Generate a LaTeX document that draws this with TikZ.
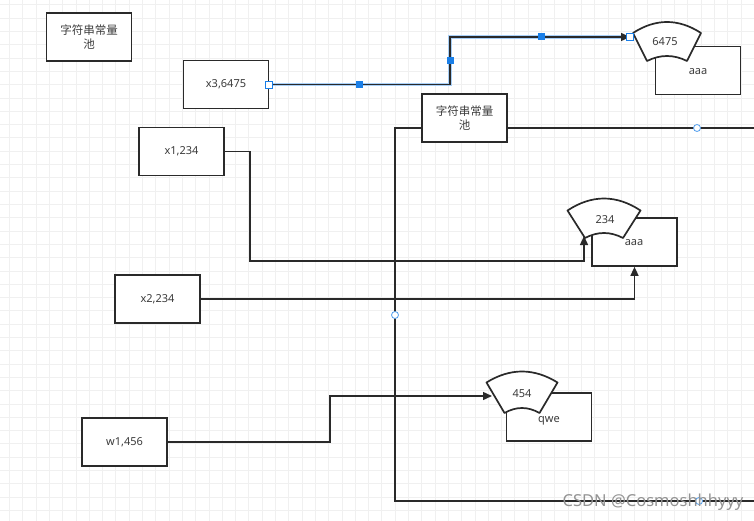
\documentclass[tikz,border=0pt]{standalone}
\usepackage{fontspec}
\setmainfont{Noto Sans}
\newfontfamily\cjk{Noto Sans CJK SC}
\usetikzlibrary{arrows.meta}
\definecolor{ink}{HTML}{2A2A2A}
\definecolor{txt}{HTML}{3C3C3C}
\definecolor{gridc}{HTML}{F0F0F0}
\definecolor{selblue}{HTML}{1A7FE8}
\definecolor{halo}{HTML}{A8CFF7}
\newcommand{\sectorshape}[7]{%
  \draw[sect] (#1-#3,#2) .. controls (#1-#3/3,#2-4*#6/3) and (#1+#3/3,#2-4*#6/3) .. (#1+#3,#2)
    -- (#1+#5,#4) .. controls (#1+#5/3,#4-4*#7/3) and (#1-#5/3,#4-4*#7/3) .. (#1-#5,#4) -- cycle;}
\begin{document}
\begin{tikzpicture}[x=1pt,y=-1pt,
  box/.style={draw=ink,line width=1.7pt,fill=white,minimum width=85pt,minimum height=48pt,
    inner sep=0pt,font=\fontsize{11}{13}\selectfont,text=txt,align=center},
  cbox/.style={box,font=\cjk\fontsize{11.5}{14}\selectfont},
  conn/.style={draw=ink,line width=1.4pt},
  tip/.style={-{Triangle[length=9pt,width=8pt]}},
  sect/.style={draw=ink,line width=1.7pt,fill=white,line join=round},
  lbl/.style={font=\fontsize{11}{13}\selectfont,text=txt,inner sep=0pt},
  handle/.style={fill=selblue,draw=none,minimum size=7pt,inner sep=0pt},
  ohandle/.style={fill=white,draw=selblue,line width=0.8pt,minimum size=7pt,inner sep=0pt},
  ring/.style={circle,fill=white,draw=selblue!75,line width=0.8pt,minimum size=7pt,inner sep=0pt}]
\useasboundingbox (0,0) rectangle (754,521);
\clip (0,0) rectangle (754,521);
\fill[white] (0,0) rectangle (754,521);
% grid
\foreach \i in {0,...,57} \draw[gridc,line width=0.6pt] (9.3+13.3*\i,0) -- (9.3+13.3*\i,521);
\foreach \j in {0,...,40} \draw[gridc,line width=0.6pt] (0,4.8+13.3*\j) -- (754,4.8+13.3*\j);
% pool frame
\draw[ink,line width=1.7pt] (395,128) rectangle (780,501);
% boxes
\node[cbox] (pool1) at (89,37) {字符串常量\\池};
\node[box] (x3) at (226,84.5) {x3,6475};
\node[box] (aaa1) at (698,70.5) {};
\node[cbox] (pool2) at (464.5,118) {字符串常量\\池};
\node[box] (x1) at (181.5,151.5) {x1,234};
\node[box] (aaa2) at (634.5,242) {};
\node[box] (x2) at (157.5,299) {x2,234};
\node[box] (w1) at (124.5,442) {w1,456};
\node[box] (qwe) at (549,417) {};
% sectors
\sectorshape{667}{33}{34}{61}{20}{11}{5}
\node[lbl] (s1) at (665,42) {6475};
\sectorshape{604}{210.5}{36.5}{238}{19}{12}{5}
\node[lbl] (s2) at (605,220) {234};
\sectorshape{522}{382.5}{35.5}{413}{17.5}{11}{5}
\node[lbl] (s3) at (522,394) {454};
% box labels
\node[lbl] (t1) at (698,72) {aaa};
\node[lbl] (t2) at (634,243) {aaa};
\node[lbl] (t3) at (549,420.5) {qwe};
% connector end points
\coordinate (e1) at (630,37);
\coordinate (e2) at (584,236);
\coordinate (e3) at (492,396);
% connectors
\draw[halo,line width=3.8pt] (x3.east) -- (450,84.5) -- (450,37) -- (e1);
\draw[conn,tip] (x3.east) -- (450,84.5) -- (450,37) -- (e1);
\draw[conn,tip] (x1.east) -- (250,151.5) -- (250,261) -- (584,261) -- (e2);
\draw[conn,tip] (x2.east) -- (aaa2.south |- x2.east) -- (aaa2.south);
\draw[conn,tip] (w1.east) -- (330,442) -- (330,396) -- (e3);
% selection handles
\node[ohandle] (h0) at (x3.east) {};
\node[ohandle] (h4) at (e1) {};
\node[handle] (h1) at (359,84.5) {};
\node[handle] (h2) at (450,61) {};
\node[handle] (h3) at (541,37) {};
\node[ring] (r1) at (697,128) {};
\node[ring] (r2) at (395,315) {};
\node[ring] (r3) at (699,501) {};
% watermark
\node[text=gray!85,font=\fontsize{16.5}{18}\selectfont,inner sep=0pt] (wm) at (653,502) {CSDN @Cosmoshhhyyy};
\end{tikzpicture}
\end{document}
